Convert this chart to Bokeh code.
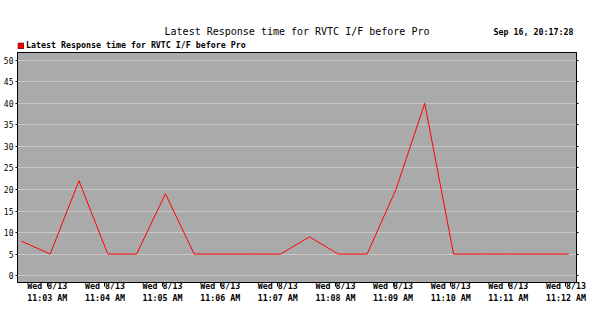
from datetime import datetime
from bokeh.plotting import figure
from bokeh.layouts import column
from bokeh.core.properties import value
from bokeh.models import (ColumnDataSource, FixedTicker, LinearAxis, Legend,
                          LegendItem, Range1d)
from bokeh.embed import file_html
from bokeh.resources import INLINE

# ---- data ----
date = "2008-08-13"
times = ["11:02:33", "11:03:03", "11:03:33", "11:04:03", "11:04:33",
         "11:05:03", "11:05:33", "11:06:03", "11:06:33", "11:07:03",
         "11:07:33", "11:08:03", "11:08:33", "11:09:03", "11:09:33",
         "11:10:03", "11:10:33", "11:11:03", "11:11:33", "11:12:03"]
response = [8, 5, 22, 5, 5, 19, 5, 5, 5, 5, 9, 5, 5, 20, 40, 5, 5, 5, 5, 5]

tick_times = ["11:03", "11:04", "11:05", "11:06", "11:07",
              "11:08", "11:09", "11:10", "11:11", "11:12"]
tick_labels = ["Wed 8/13\n11:03 AM", "Wed 8/13\n11:04 AM", "Wed 8/13\n11:05 AM",
               "Wed 8/13\n11:06 AM", "Wed 8/13\n11:07 AM", "Wed 8/13\n11:08 AM",
               "Wed 8/13\n11:09 AM", "Wed 8/13\n11:10 AM", "Wed 8/13\n11:11 AM",
               "Wed 8/13\n11:12 AM"]
y_ticks = [0, 5, 10, 15, 20, 25, 30, 35, 40, 45, 50]

title_text = "Latest Response time for RVTC I/F before Pro"
series_name = "Latest Response time for RVTC I/F before Pro"
stamp_text = "Sep 16, 20:17:28"

EPOCH = datetime(1970, 1, 1)
NAN = float("nan")


def to_ms(hms):
    fmt = "%Y-%m-%d %H:%M:%S" if hms.count(":") == 2 else "%Y-%m-%d %H:%M"
    d = datetime.strptime(f"{date} {hms}", fmt)
    return int((d - EPOCH).total_seconds() * 1000)


xs = [to_ms(t) for t in times]
tick_ms = [to_ms(t) for t in tick_times]

FONT = "DejaVu Sans Mono"
W = 616
HEAD_H = 52
LEFT, RIGHT = 17, 40

# ---- header (title, timestamp, legend) ----
head = figure(width=W, height=HEAD_H, output_backend="svg", toolbar_location=None,
              x_range=Range1d(LEFT, W - RIGHT), y_range=Range1d(HEAD_H, 0),
              x_axis_location=None, y_axis_location=None,
              min_border_left=LEFT, min_border_right=RIGHT,
              min_border_top=0, min_border_bottom=0)
head.outline_line_color = None
head.grid.visible = False
head.background_fill_color = "white"
head.border_fill_color = "white"
head.text(x=[296.5], y=[31], text=[title_text], text_align="center",
          text_baseline="alphabetic", text_font=value(FONT),
          text_font_size="10px", text_color="black")
head.text(x=[573], y=[31], text=[stamp_text], text_align="right",
          text_baseline="alphabetic", text_font=value(FONT),
          text_font_size="8.3px", text_font_style="bold", text_color="black")

# legend proxy glyph (no visible data; only its swatch is shown in the legend)
leg_src = ColumnDataSource(dict(left=[NAN], right=[NAN], bottom=[NAN], top=[NAN]))
leg_r = head.quad(left="left", right="right", bottom="bottom", top="top",
                  source=leg_src, fill_color="#ff0000", line_color="#800000")
legend = Legend(items=[LegendItem(label=series_name, renderers=[leg_r])],
                location=(0, 2), orientation="horizontal",
                padding=0, margin=0, spacing=0,
                glyph_width=7, glyph_height=7, label_standoff=2,
                label_height=7, label_width=10,
                label_text_font=FONT, label_text_font_size="8.3px",
                label_text_font_style="bold", label_text_color="black",
                border_line_color=None, background_fill_alpha=0)
head.add_layout(legend, "center")

# ---- main chart ----
p = figure(width=W, height=333 - HEAD_H, x_axis_type="datetime",
           output_backend="svg", toolbar_location=None, title=None,
           x_range=Range1d(to_ms("11:02:29"), to_ms("11:12:11")),
           y_range=Range1d(-1.6, 51.8),
           min_border_left=LEFT, min_border_right=RIGHT,
           min_border_top=0, min_border_bottom=51)

p.background_fill_color = "#aaaaaa"
p.border_fill_color = "white"
p.outline_line_color = "black"
p.outline_line_width = 1

src = ColumnDataSource(dict(x=xs, y=response))
p.line("x", "y", source=src, line_color="#ff0000", line_width=1)

p.xgrid.visible = False
p.ygrid.ticker = FixedTicker(ticks=y_ticks)
p.ygrid.grid_line_color = "#c8c8c8"
p.ygrid.grid_line_width = 1

xa = p.xaxis[0]
xa.ticker = FixedTicker(ticks=tick_ms)
xa.major_label_overrides = {m: lab for m, lab in zip(tick_ms, tick_labels)}
xa.minor_tick_line_color = None
xa.major_tick_in = 0
xa.major_tick_out = 4
xa.major_tick_line_color = "black"
xa.axis_line_color = "black"
xa.major_label_standoff = -6
xa.major_label_text_font = FONT
xa.major_label_text_font_size = "8.3px"
xa.major_label_text_font_style = "bold"
xa.major_label_text_color = "black"

ya = p.yaxis[0]
ya.ticker = FixedTicker(ticks=y_ticks)
ya.minor_tick_line_color = None
ya.major_tick_in = 0
ya.major_tick_out = 2
ya.axis_line_color = "black"
ya.major_label_standoff = 2
ya.major_label_text_font = FONT
ya.major_label_text_font_size = "8px"
ya.major_label_text_color = "black"

yr = LinearAxis(ticker=FixedTicker(ticks=y_ticks))
yr.minor_tick_line_color = None
yr.major_tick_in = 0
yr.major_tick_out = 2
yr.axis_line_color = "black"
yr.major_label_text_color = None
yr.major_label_text_font_size = "8px"
p.add_layout(yr, "right")

layout = column(head, p, spacing=0)
open("out.html", "w").write(file_html(layout, INLINE))
